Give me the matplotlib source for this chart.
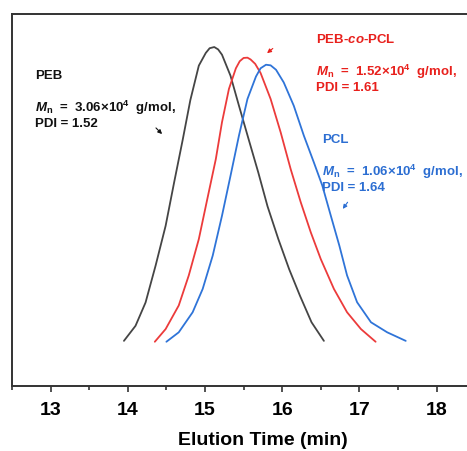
import matplotlib
matplotlib.use("Agg")
import matplotlib.pyplot as plt

plt.rcParams["font.family"] = ["Liberation Sans", "DejaVu Sans"]
plt.rcParams["font.weight"] = "bold"
plt.rcParams["mathtext.fontset"] = "custom"
plt.rcParams["mathtext.rm"] = "Liberation Sans:bold"
plt.rcParams["mathtext.it"] = "Liberation Sans:italic:bold"
plt.rcParams["mathtext.bf"] = "Liberation Sans:bold"

# GPC traces (time in min, normalised RI signal)
peb_t = [13.95, 14.10, 14.23, 14.36, 14.49, 14.60, 14.71, 14.81, 14.92, 15.01,
         15.06, 15.12, 15.17, 15.22, 15.33, 15.44, 15.57, 15.69, 15.81, 15.95,
         16.09, 16.23, 16.38, 16.54]
peb_i = [0.004, 0.055, 0.134, 0.259, 0.394, 0.541, 0.684, 0.820, 0.937, 0.980,
         0.996, 1.000, 0.992, 0.974, 0.903, 0.801, 0.683, 0.575, 0.460, 0.349,
         0.247, 0.157, 0.067, 0.004]

copo_t = [14.35, 14.49, 14.66, 14.79, 14.92, 15.03, 15.14, 15.22, 15.31, 15.40,
          15.45, 15.50, 15.55, 15.59, 15.65, 15.72, 15.85, 15.98, 16.11, 16.24,
          16.37, 16.50, 16.67, 16.84, 17.02, 17.21]
copo_i = [0.001, 0.044, 0.124, 0.226, 0.349, 0.485, 0.620, 0.745, 0.858, 0.928,
          0.952, 0.963, 0.964, 0.958, 0.943, 0.912, 0.824, 0.711, 0.586, 0.474,
          0.372, 0.281, 0.180, 0.101, 0.044, 0.001]

pcl_t = [14.50, 14.66, 14.84, 14.97, 15.10, 15.22, 15.33, 15.44, 15.55, 15.66,
         15.72, 15.79, 15.85, 15.92, 16.02, 16.15, 16.28, 16.41, 16.52, 16.63,
         16.74, 16.84, 16.97, 17.15, 17.36, 17.60]
pcl_i = [0.001, 0.033, 0.101, 0.180, 0.293, 0.428, 0.563, 0.700, 0.824, 0.900,
         0.928, 0.940, 0.938, 0.923, 0.880, 0.801, 0.700, 0.609, 0.530, 0.428,
         0.327, 0.226, 0.135, 0.067, 0.033, 0.004]

black = "#454545"
red = "#ec3b3b"
blue = "#2f74d8"
red_txt = "#e8201c"
blue_txt = "#2c6ed2"

fig = plt.figure(figsize=(4.67, 4.52), dpi=100)
ax = fig.add_axes([12 / 467, 65 / 452, 501.8 / 467, 372 / 452])

for t, i, c in [(peb_t, peb_i, black), (copo_t, copo_i, red), (pcl_t, pcl_i, blue)]:
    ax.plot(t, i, color=c, lw=1.3, solid_joinstyle="round", solid_capstyle="round")

ax.set_xlim(12.5, 19)
ax.set_ylim(-0.149, 1.112)
ax.set_yticks([])
ax.set_xticks([13, 14, 15, 16, 17, 18])
ax.set_xticks([12.5, 13.5, 14.5, 15.5, 16.5, 17.5, 18.5], minor=True)
ax.tick_params(axis="x", which="major", direction="out", length=4, width=1.2,
               labelsize=14, pad=7, color="#333333")
ax.tick_params(axis="x", which="minor", direction="out", length=3, width=1.2,
               color="#333333")
for lab in ax.get_xticklabels():
    lab.set_fontweight("bold")
for sp in ax.spines.values():
    sp.set_linewidth(1.4)
    sp.set_color("#333333")
ax.set_xlabel("Elution Time (min)", fontsize=14, fontweight="bold", labelpad=9)

fs = 9.5
tr = ax.transAxes
ax.text(0.046, 0.836, "PEB", fontsize=fs, color="#111111", va="center", transform=tr)
ax.text(0.046, 0.750, r"$M_\mathrm{n}$  =  3.06×10$^\mathrm{4}$  g/mol,", fontsize=fs,
        color="#111111", va="center", transform=tr)
ax.text(0.046, 0.707, "PDI = 1.52", fontsize=fs, color="#111111", va="center", transform=tr)
ax.annotate("", xy=(0.303, 0.672), xytext=(0.283, 0.699), xycoords=tr,
            arrowprops=dict(arrowstyle="-|>", color="#111111", lw=0.8,
                            mutation_scale=6))

ax.text(0.606, 0.933, r"PEB-$co$-PCL", fontsize=fs, color=red_txt, va="center", transform=tr)
ax.text(0.606, 0.847, r"$M_\mathrm{n}$  =  1.52×10$^\mathrm{4}$  g/mol,", fontsize=fs,
        color=red_txt, va="center", transform=tr)
ax.text(0.606, 0.804, "PDI = 1.61", fontsize=fs, color=red_txt, va="center", transform=tr)
ax.annotate("", xy=(0.504, 0.890), xytext=(0.524, 0.912), xycoords=tr,
            arrowprops=dict(arrowstyle="-|>", color=red_txt, lw=0.8,
                            mutation_scale=6))

ax.text(0.618, 0.664, "PCL", fontsize=fs, color=blue_txt, va="center", transform=tr)
ax.text(0.618, 0.578, r"$M_\mathrm{n}$  =  1.06×10$^\mathrm{4}$  g/mol,", fontsize=fs,
        color=blue_txt, va="center", transform=tr)
ax.text(0.618, 0.535, "PDI = 1.64", fontsize=fs, color=blue_txt, va="center", transform=tr)
ax.annotate("", xy=(0.656, 0.470), xytext=(0.672, 0.500), xycoords=tr,
            arrowprops=dict(arrowstyle="-|>", color=blue_txt, lw=0.8,
                            mutation_scale=6))

fig.savefig("out.png", dpi=100)
